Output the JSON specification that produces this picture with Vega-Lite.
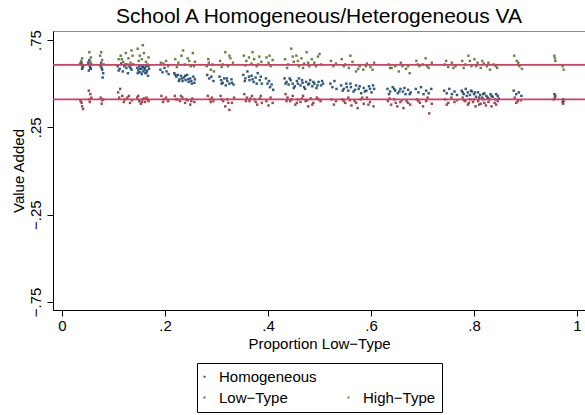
{
  "$schema": "https://vega.github.io/schema/vega-lite/v6.json",
  "width": 532,
  "height": 279,
  "autosize": {"type": "none"},
  "padding": {"left": 53, "top": 31, "right": 0, "bottom": 105},
  "background": "white",
  "title": {"text": "School A Homogeneous/Heterogeneous VA", "fontSize": 21, "font": "Liberation Sans", "fontWeight": "normal", "color": "black", "anchor": "middle", "frame": "group", "offset": 3},
  "config": {
    "view": {"stroke": "#8c8c8c", "strokeWidth": 1},
    "font": "Liberation Sans",
    "axis": {"grid": false, "domainColor": "black", "tickColor": "black", "labelColor": "black", "titleColor": "black", "labelFontSize": 15, "titleFontSize": 15, "titleFontWeight": "normal", "tickSize": 6, "labelFont": "Liberation Sans", "titleFont": "Liberation Sans"}
  },
  "layer": [
    {
      "data": {"values": [
        {"p":0.036,"va":0.61,"g":"Homogeneous"},{"p":0.039,"va":0.585,"g":"Homogeneous"},{"p":0.041,"va":0.6,"g":"Homogeneous"},{"p":0.038,"va":0.62,"g":"Homogeneous"},
        {"p":0.051,"va":0.62,"g":"Homogeneous"},{"p":0.054,"va":0.6,"g":"Homogeneous"},{"p":0.056,"va":0.585,"g":"Homogeneous"},{"p":0.053,"va":0.635,"g":"Homogeneous"},{"p":0.057,"va":0.61,"g":"Homogeneous"},{"p":0.052,"va":0.575,"g":"Homogeneous"},
        {"p":0.075,"va":0.6,"g":"Homogeneous"},{"p":0.078,"va":0.58,"g":"Homogeneous"},{"p":0.08,"va":0.56,"g":"Homogeneous"},{"p":0.076,"va":0.62,"g":"Homogeneous"},{"p":0.079,"va":0.535,"g":"Homogeneous"},
        {"p":0.108,"va":0.6,"g":"Homogeneous"},{"p":0.112,"va":0.585,"g":"Homogeneous"},{"p":0.115,"va":0.615,"g":"Homogeneous"},{"p":0.118,"va":0.57,"g":"Homogeneous"},{"p":0.121,"va":0.6,"g":"Homogeneous"},{"p":0.125,"va":0.59,"g":"Homogeneous"},{"p":0.128,"va":0.56,"g":"Homogeneous"},{"p":0.131,"va":0.6,"g":"Homogeneous"},{"p":0.135,"va":0.58,"g":"Homogeneous"},{"p":0.138,"va":0.61,"g":"Homogeneous"},
        {"p":0.146,"va":0.59,"g":"Homogeneous"},{"p":0.148,"va":0.575,"g":"Homogeneous"},{"p":0.15,"va":0.6,"g":"Homogeneous"},{"p":0.152,"va":0.565,"g":"Homogeneous"},{"p":0.154,"va":0.585,"g":"Homogeneous"},{"p":0.155,"va":0.555,"g":"Homogeneous"},{"p":0.157,"va":0.595,"g":"Homogeneous"},{"p":0.158,"va":0.57,"g":"Homogeneous"},{"p":0.16,"va":0.58,"g":"Homogeneous"},{"p":0.162,"va":0.56,"g":"Homogeneous"},{"p":0.163,"va":0.6,"g":"Homogeneous"},{"p":0.165,"va":0.575,"g":"Homogeneous"},{"p":0.167,"va":0.545,"g":"Homogeneous"},{"p":0.169,"va":0.585,"g":"Homogeneous"},
        {"p":0.191,"va":0.58,"g":"Homogeneous"},{"p":0.195,"va":0.565,"g":"Homogeneous"},{"p":0.199,"va":0.59,"g":"Homogeneous"},{"p":0.203,"va":0.57,"g":"Homogeneous"},{"p":0.207,"va":0.555,"g":"Homogeneous"},
        {"p":0.218,"va":0.56,"g":"Homogeneous"},{"p":0.222,"va":0.54,"g":"Homogeneous"},{"p":0.225,"va":0.55,"g":"Homogeneous"},{"p":0.228,"va":0.525,"g":"Homogeneous"},{"p":0.231,"va":0.545,"g":"Homogeneous"},{"p":0.234,"va":0.515,"g":"Homogeneous"},{"p":0.237,"va":0.535,"g":"Homogeneous"},{"p":0.24,"va":0.52,"g":"Homogeneous"},{"p":0.243,"va":0.55,"g":"Homogeneous"},{"p":0.246,"va":0.51,"g":"Homogeneous"},{"p":0.249,"va":0.53,"g":"Homogeneous"},{"p":0.252,"va":0.5,"g":"Homogeneous"},{"p":0.255,"va":0.54,"g":"Homogeneous"},{"p":0.258,"va":0.525,"g":"Homogeneous"},
        {"p":0.282,"va":0.55,"g":"Homogeneous"},{"p":0.286,"va":0.53,"g":"Homogeneous"},{"p":0.29,"va":0.54,"g":"Homogeneous"},{"p":0.294,"va":0.515,"g":"Homogeneous"},
        {"p":0.306,"va":0.54,"g":"Homogeneous"},{"p":0.309,"va":0.52,"g":"Homogeneous"},{"p":0.312,"va":0.505,"g":"Homogeneous"},{"p":0.315,"va":0.53,"g":"Homogeneous"},{"p":0.318,"va":0.49,"g":"Homogeneous"},{"p":0.321,"va":0.515,"g":"Homogeneous"},{"p":0.325,"va":0.5,"g":"Homogeneous"},{"p":0.329,"va":0.525,"g":"Homogeneous"},{"p":0.333,"va":0.495,"g":"Homogeneous"},
        {"p":0.352,"va":0.55,"g":"Homogeneous"},{"p":0.356,"va":0.53,"g":"Homogeneous"},{"p":0.36,"va":0.57,"g":"Homogeneous"},{"p":0.364,"va":0.52,"g":"Homogeneous"},{"p":0.368,"va":0.545,"g":"Homogeneous"},{"p":0.372,"va":0.51,"g":"Homogeneous"},{"p":0.376,"va":0.535,"g":"Homogeneous"},{"p":0.38,"va":0.56,"g":"Homogeneous"},{"p":0.384,"va":0.52,"g":"Homogeneous"},{"p":0.388,"va":0.5,"g":"Homogeneous"},
        {"p":0.396,"va":0.53,"g":"Homogeneous"},{"p":0.399,"va":0.5,"g":"Homogeneous"},{"p":0.402,"va":0.515,"g":"Homogeneous"},{"p":0.404,"va":0.48,"g":"Homogeneous"},{"p":0.407,"va":0.495,"g":"Homogeneous"},{"p":0.41,"va":0.465,"g":"Homogeneous"},
        {"p":0.432,"va":0.53,"g":"Homogeneous"},{"p":0.436,"va":0.51,"g":"Homogeneous"},{"p":0.44,"va":0.495,"g":"Homogeneous"},{"p":0.444,"va":0.52,"g":"Homogeneous"},{"p":0.448,"va":0.5,"g":"Homogeneous"},{"p":0.452,"va":0.485,"g":"Homogeneous"},{"p":0.456,"va":0.515,"g":"Homogeneous"},{"p":0.46,"va":0.53,"g":"Homogeneous"},{"p":0.463,"va":0.49,"g":"Homogeneous"},{"p":0.467,"va":0.505,"g":"Homogeneous"},{"p":0.47,"va":0.48,"g":"Homogeneous"},{"p":0.474,"va":0.51,"g":"Homogeneous"},{"p":0.478,"va":0.495,"g":"Homogeneous"},{"p":0.482,"va":0.52,"g":"Homogeneous"},{"p":0.486,"va":0.485,"g":"Homogeneous"},{"p":0.49,"va":0.5,"g":"Homogeneous"},{"p":0.494,"va":0.475,"g":"Homogeneous"},{"p":0.498,"va":0.51,"g":"Homogeneous"},{"p":0.503,"va":0.49,"g":"Homogeneous"},{"p":0.507,"va":0.5,"g":"Homogeneous"},
        {"p":0.521,"va":0.5,"g":"Homogeneous"},{"p":0.525,"va":0.48,"g":"Homogeneous"},{"p":0.529,"va":0.515,"g":"Homogeneous"},{"p":0.533,"va":0.47,"g":"Homogeneous"},
        {"p":0.542,"va":0.49,"g":"Homogeneous"},{"p":0.547,"va":0.47,"g":"Homogeneous"},{"p":0.552,"va":0.5,"g":"Homogeneous"},{"p":0.556,"va":0.46,"g":"Homogeneous"},{"p":0.561,"va":0.48,"g":"Homogeneous"},{"p":0.566,"va":0.455,"g":"Homogeneous"},{"p":0.571,"va":0.49,"g":"Homogeneous"},{"p":0.576,"va":0.47,"g":"Homogeneous"},{"p":0.581,"va":0.445,"g":"Homogeneous"},{"p":0.586,"va":0.475,"g":"Homogeneous"},{"p":0.591,"va":0.46,"g":"Homogeneous"},{"p":0.596,"va":0.485,"g":"Homogeneous"},{"p":0.601,"va":0.45,"g":"Homogeneous"},{"p":0.606,"va":0.47,"g":"Homogeneous"},
        {"p":0.632,"va":0.47,"g":"Homogeneous"},{"p":0.637,"va":0.455,"g":"Homogeneous"},{"p":0.642,"va":0.48,"g":"Homogeneous"},{"p":0.647,"va":0.46,"g":"Homogeneous"},{"p":0.652,"va":0.445,"g":"Homogeneous"},{"p":0.657,"va":0.47,"g":"Homogeneous"},{"p":0.662,"va":0.455,"g":"Homogeneous"},{"p":0.667,"va":0.44,"g":"Homogeneous"},{"p":0.672,"va":0.465,"g":"Homogeneous"},{"p":0.677,"va":0.45,"g":"Homogeneous"},
        {"p":0.687,"va":0.47,"g":"Homogeneous"},{"p":0.692,"va":0.45,"g":"Homogeneous"},{"p":0.697,"va":0.48,"g":"Homogeneous"},{"p":0.702,"va":0.44,"g":"Homogeneous"},{"p":0.707,"va":0.46,"g":"Homogeneous"},{"p":0.712,"va":0.445,"g":"Homogeneous"},{"p":0.717,"va":0.47,"g":"Homogeneous"},
        {"p":0.742,"va":0.46,"g":"Homogeneous"},{"p":0.747,"va":0.445,"g":"Homogeneous"},{"p":0.752,"va":0.47,"g":"Homogeneous"},{"p":0.757,"va":0.44,"g":"Homogeneous"},{"p":0.762,"va":0.455,"g":"Homogeneous"},{"p":0.767,"va":0.435,"g":"Homogeneous"},
        {"p":0.776,"va":0.46,"g":"Homogeneous"},{"p":0.78,"va":0.44,"g":"Homogeneous"},{"p":0.784,"va":0.47,"g":"Homogeneous"},{"p":0.788,"va":0.45,"g":"Homogeneous"},{"p":0.792,"va":0.435,"g":"Homogeneous"},{"p":0.796,"va":0.455,"g":"Homogeneous"},{"p":0.8,"va":0.44,"g":"Homogeneous"},{"p":0.804,"va":0.425,"g":"Homogeneous"},{"p":0.808,"va":0.45,"g":"Homogeneous"},{"p":0.812,"va":0.435,"g":"Homogeneous"},{"p":0.816,"va":0.42,"g":"Homogeneous"},{"p":0.82,"va":0.445,"g":"Homogeneous"},{"p":0.824,"va":0.43,"g":"Homogeneous"},{"p":0.828,"va":0.415,"g":"Homogeneous"},{"p":0.832,"va":0.44,"g":"Homogeneous"},{"p":0.836,"va":0.425,"g":"Homogeneous"},{"p":0.841,"va":0.41,"g":"Homogeneous"},{"p":0.846,"va":0.43,"g":"Homogeneous"},
        {"p":0.877,"va":0.46,"g":"Homogeneous"},{"p":0.882,"va":0.44,"g":"Homogeneous"},{"p":0.887,"va":0.45,"g":"Homogeneous"},{"p":0.892,"va":0.43,"g":"Homogeneous"},
        {"p":0.956,"va":0.44,"g":"Homogeneous"},{"p":0.958,"va":0.43,"g":"Homogeneous"},
        {"p":0.973,"va":0.41,"g":"Homogeneous"},{"p":0.972,"va":0.395,"g":"Homogeneous"},
        {"p":0.04,"va":0.595,"g":"Homogeneous"},{"p":0.055,"va":0.59,"g":"Homogeneous"},{"p":0.077,"va":0.59,"g":"Homogeneous"},
        {"p":0.11,"va":0.575,"g":"Homogeneous"},{"p":0.123,"va":0.61,"g":"Homogeneous"},{"p":0.133,"va":0.59,"g":"Homogeneous"},
        {"p":0.147,"va":0.56,"g":"Homogeneous"},{"p":0.151,"va":0.585,"g":"Homogeneous"},{"p":0.156,"va":0.6,"g":"Homogeneous"},{"p":0.161,"va":0.59,"g":"Homogeneous"},{"p":0.164,"va":0.565,"g":"Homogeneous"},{"p":0.168,"va":0.6,"g":"Homogeneous"},
        {"p":0.22,"va":0.55,"g":"Homogeneous"},{"p":0.227,"va":0.515,"g":"Homogeneous"},{"p":0.233,"va":0.53,"g":"Homogeneous"},{"p":0.239,"va":0.545,"g":"Homogeneous"},{"p":0.245,"va":0.525,"g":"Homogeneous"},{"p":0.251,"va":0.515,"g":"Homogeneous"},{"p":0.257,"va":0.505,"g":"Homogeneous"},
        {"p":0.31,"va":0.5,"g":"Homogeneous"},{"p":0.32,"va":0.53,"g":"Homogeneous"},{"p":0.33,"va":0.505,"g":"Homogeneous"},
        {"p":0.355,"va":0.515,"g":"Homogeneous"},{"p":0.363,"va":0.54,"g":"Homogeneous"},{"p":0.37,"va":0.525,"g":"Homogeneous"},{"p":0.378,"va":0.5,"g":"Homogeneous"},{"p":0.386,"va":0.54,"g":"Homogeneous"},
        {"p":0.434,"va":0.5,"g":"Homogeneous"},{"p":0.442,"va":0.53,"g":"Homogeneous"},{"p":0.45,"va":0.475,"g":"Homogeneous"},{"p":0.458,"va":0.5,"g":"Homogeneous"},{"p":0.466,"va":0.52,"g":"Homogeneous"},{"p":0.472,"va":0.47,"g":"Homogeneous"},{"p":0.48,"va":0.5,"g":"Homogeneous"},{"p":0.488,"va":0.51,"g":"Homogeneous"},{"p":0.496,"va":0.49,"g":"Homogeneous"},{"p":0.505,"va":0.515,"g":"Homogeneous"},
        {"p":0.545,"va":0.46,"g":"Homogeneous"},{"p":0.553,"va":0.48,"g":"Homogeneous"},{"p":0.56,"va":0.5,"g":"Homogeneous"},{"p":0.569,"va":0.465,"g":"Homogeneous"},{"p":0.578,"va":0.485,"g":"Homogeneous"},{"p":0.588,"va":0.455,"g":"Homogeneous"},{"p":0.598,"va":0.47,"g":"Homogeneous"},{"p":0.604,"va":0.49,"g":"Homogeneous"},
        {"p":0.635,"va":0.44,"g":"Homogeneous"},{"p":0.645,"va":0.47,"g":"Homogeneous"},{"p":0.655,"va":0.455,"g":"Homogeneous"},{"p":0.665,"va":0.475,"g":"Homogeneous"},{"p":0.675,"va":0.44,"g":"Homogeneous"},
        {"p":0.778,"va":0.45,"g":"Homogeneous"},{"p":0.786,"va":0.43,"g":"Homogeneous"},{"p":0.794,"va":0.46,"g":"Homogeneous"},{"p":0.802,"va":0.45,"g":"Homogeneous"},{"p":0.81,"va":0.42,"g":"Homogeneous"},{"p":0.818,"va":0.44,"g":"Homogeneous"},{"p":0.826,"va":0.42,"g":"Homogeneous"},{"p":0.834,"va":0.43,"g":"Homogeneous"},{"p":0.843,"va":0.44,"g":"Homogeneous"},{"p":0.848,"va":0.415,"g":"Homogeneous"},

        {"p":0.036,"va":0.4,"g":"Low−Type"},{"p":0.039,"va":0.37,"g":"Low−Type"},{"p":0.041,"va":0.355,"g":"Low−Type"},
        {"p":0.052,"va":0.46,"g":"Low−Type"},{"p":0.055,"va":0.44,"g":"Low−Type"},{"p":0.057,"va":0.42,"g":"Low−Type"},{"p":0.054,"va":0.395,"g":"Low−Type"},
        {"p":0.075,"va":0.42,"g":"Low−Type"},{"p":0.078,"va":0.405,"g":"Low−Type"},{"p":0.08,"va":0.41,"g":"Low−Type"},
        {"p":0.109,"va":0.45,"g":"Low−Type"},{"p":0.113,"va":0.47,"g":"Low−Type"},{"p":0.117,"va":0.43,"g":"Low−Type"},{"p":0.122,"va":0.41,"g":"Low−Type"},{"p":0.127,"va":0.42,"g":"Low−Type"},{"p":0.132,"va":0.39,"g":"Low−Type"},{"p":0.136,"va":0.405,"g":"Low−Type"},
        {"p":0.146,"va":0.42,"g":"Low−Type"},{"p":0.15,"va":0.4,"g":"Low−Type"},{"p":0.153,"va":0.385,"g":"Low−Type"},{"p":0.157,"va":0.41,"g":"Low−Type"},{"p":0.161,"va":0.395,"g":"Low−Type"},{"p":0.164,"va":0.42,"g":"Low−Type"},{"p":0.168,"va":0.4,"g":"Low−Type"},
        {"p":0.193,"va":0.43,"g":"Low−Type"},{"p":0.198,"va":0.41,"g":"Low−Type"},{"p":0.202,"va":0.42,"g":"Low−Type"},{"p":0.206,"va":0.4,"g":"Low−Type"},
        {"p":0.219,"va":0.43,"g":"Low−Type"},{"p":0.224,"va":0.41,"g":"Low−Type"},{"p":0.229,"va":0.4,"g":"Low−Type"},{"p":0.234,"va":0.42,"g":"Low−Type"},{"p":0.239,"va":0.39,"g":"Low−Type"},{"p":0.244,"va":0.405,"g":"Low−Type"},{"p":0.249,"va":0.38,"g":"Low−Type"},{"p":0.253,"va":0.415,"g":"Low−Type"},{"p":0.257,"va":0.395,"g":"Low−Type"},
        {"p":0.283,"va":0.43,"g":"Low−Type"},{"p":0.287,"va":0.41,"g":"Low−Type"},{"p":0.291,"va":0.42,"g":"Low−Type"},{"p":0.294,"va":0.4,"g":"Low−Type"},
        {"p":0.308,"va":0.43,"g":"Low−Type"},{"p":0.313,"va":0.4,"g":"Low−Type"},{"p":0.317,"va":0.37,"g":"Low−Type"},{"p":0.321,"va":0.41,"g":"Low−Type"},{"p":0.325,"va":0.35,"g":"Low−Type"},{"p":0.33,"va":0.39,"g":"Low−Type"},{"p":0.334,"va":0.42,"g":"Low−Type"},
        {"p":0.354,"va":0.44,"g":"Low−Type"},{"p":0.359,"va":0.42,"g":"Low−Type"},{"p":0.364,"va":0.4,"g":"Low−Type"},{"p":0.369,"va":0.43,"g":"Low−Type"},{"p":0.374,"va":0.41,"g":"Low−Type"},{"p":0.379,"va":0.38,"g":"Low−Type"},{"p":0.384,"va":0.415,"g":"Low−Type"},{"p":0.388,"va":0.39,"g":"Low−Type"},
        {"p":0.397,"va":0.4,"g":"Low−Type"},{"p":0.401,"va":0.375,"g":"Low−Type"},{"p":0.405,"va":0.42,"g":"Low−Type"},{"p":0.409,"va":0.39,"g":"Low−Type"},
        {"p":0.434,"va":0.44,"g":"Low−Type"},{"p":0.438,"va":0.42,"g":"Low−Type"},{"p":0.443,"va":0.4,"g":"Low−Type"},{"p":0.448,"va":0.43,"g":"Low−Type"},{"p":0.453,"va":0.38,"g":"Low−Type"},{"p":0.458,"va":0.41,"g":"Low−Type"},{"p":0.463,"va":0.395,"g":"Low−Type"},{"p":0.468,"va":0.43,"g":"Low−Type"},{"p":0.473,"va":0.4,"g":"Low−Type"},{"p":0.478,"va":0.37,"g":"Low−Type"},{"p":0.483,"va":0.415,"g":"Low−Type"},{"p":0.488,"va":0.39,"g":"Low−Type"},{"p":0.495,"va":0.42,"g":"Low−Type"},{"p":0.502,"va":0.4,"g":"Low−Type"},
        {"p":0.523,"va":0.41,"g":"Low−Type"},{"p":0.528,"va":0.38,"g":"Low−Type"},{"p":0.532,"va":0.4,"g":"Low−Type"},
        {"p":0.544,"va":0.41,"g":"Low−Type"},{"p":0.55,"va":0.39,"g":"Low−Type"},{"p":0.556,"va":0.42,"g":"Low−Type"},{"p":0.562,"va":0.375,"g":"Low−Type"},{"p":0.568,"va":0.4,"g":"Low−Type"},{"p":0.574,"va":0.36,"g":"Low−Type"},{"p":0.58,"va":0.41,"g":"Low−Type"},{"p":0.586,"va":0.385,"g":"Low−Type"},{"p":0.592,"va":0.42,"g":"Low−Type"},{"p":0.598,"va":0.395,"g":"Low−Type"},{"p":0.605,"va":0.37,"g":"Low−Type"},
        {"p":0.633,"va":0.4,"g":"Low−Type"},{"p":0.639,"va":0.38,"g":"Low−Type"},{"p":0.645,"va":0.41,"g":"Low−Type"},{"p":0.651,"va":0.37,"g":"Low−Type"},{"p":0.657,"va":0.395,"g":"Low−Type"},{"p":0.663,"va":0.36,"g":"Low−Type"},{"p":0.669,"va":0.4,"g":"Low−Type"},{"p":0.676,"va":0.38,"g":"Low−Type"},
        {"p":0.689,"va":0.41,"g":"Low−Type"},{"p":0.695,"va":0.39,"g":"Low−Type"},{"p":0.701,"va":0.37,"g":"Low−Type"},{"p":0.707,"va":0.4,"g":"Low−Type"},{"p":0.713,"va":0.33,"g":"Low−Type"},{"p":0.718,"va":0.385,"g":"Low−Type"},
        {"p":0.744,"va":0.41,"g":"Low−Type"},{"p":0.75,"va":0.39,"g":"Low−Type"},{"p":0.756,"va":0.42,"g":"Low−Type"},{"p":0.762,"va":0.395,"g":"Low−Type"},{"p":0.767,"va":0.405,"g":"Low−Type"},
        {"p":0.778,"va":0.42,"g":"Low−Type"},{"p":0.783,"va":0.4,"g":"Low−Type"},{"p":0.788,"va":0.38,"g":"Low−Type"},{"p":0.793,"va":0.41,"g":"Low−Type"},{"p":0.798,"va":0.395,"g":"Low−Type"},{"p":0.803,"va":0.37,"g":"Low−Type"},{"p":0.808,"va":0.4,"g":"Low−Type"},{"p":0.813,"va":0.385,"g":"Low−Type"},{"p":0.818,"va":0.41,"g":"Low−Type"},{"p":0.823,"va":0.375,"g":"Low−Type"},{"p":0.828,"va":0.395,"g":"Low−Type"},{"p":0.834,"va":0.37,"g":"Low−Type"},{"p":0.84,"va":0.39,"g":"Low−Type"},{"p":0.846,"va":0.4,"g":"Low−Type"},
        {"p":0.879,"va":0.42,"g":"Low−Type"},{"p":0.885,"va":0.4,"g":"Low−Type"},{"p":0.891,"va":0.405,"g":"Low−Type"},
        {"p":0.957,"va":0.42,"g":"Low−Type"},{"p":0.955,"va":0.41,"g":"Low−Type"},
        {"p":0.974,"va":0.4,"g":"Low−Type"},{"p":0.973,"va":0.385,"g":"Low−Type"},
        {"p":0.038,"va":0.39,"g":"Low−Type"},{"p":0.053,"va":0.41,"g":"Low−Type"},{"p":0.077,"va":0.385,"g":"Low−Type"},{"p":0.111,"va":0.42,"g":"Low−Type"},{"p":0.12,"va":0.395,"g":"Low−Type"},{"p":0.13,"va":0.43,"g":"Low−Type"},{"p":0.148,"va":0.43,"g":"Low−Type"},{"p":0.155,"va":0.395,"g":"Low−Type"},{"p":0.159,"va":0.415,"g":"Low−Type"},{"p":0.166,"va":0.41,"g":"Low−Type"},
        {"p":0.196,"va":0.395,"g":"Low−Type"},{"p":0.221,"va":0.41,"g":"Low−Type"},{"p":0.231,"va":0.43,"g":"Low−Type"},{"p":0.241,"va":0.41,"g":"Low−Type"},{"p":0.251,"va":0.4,"g":"Low−Type"},{"p":0.289,"va":0.395,"g":"Low−Type"},{"p":0.31,"va":0.41,"g":"Low−Type"},{"p":0.323,"va":0.39,"g":"Low−Type"},
        {"p":0.357,"va":0.4,"g":"Low−Type"},{"p":0.366,"va":0.415,"g":"Low−Type"},{"p":0.376,"va":0.395,"g":"Low−Type"},{"p":0.386,"va":0.43,"g":"Low−Type"},{"p":0.436,"va":0.4,"g":"Low−Type"},{"p":0.446,"va":0.41,"g":"Low−Type"},{"p":0.456,"va":0.39,"g":"Low−Type"},{"p":0.466,"va":0.415,"g":"Low−Type"},{"p":0.476,"va":0.405,"g":"Low−Type"},{"p":0.486,"va":0.38,"g":"Low−Type"},{"p":0.498,"va":0.41,"g":"Low−Type"},
        {"p":0.547,"va":0.4,"g":"Low−Type"},{"p":0.559,"va":0.405,"g":"Low−Type"},{"p":0.571,"va":0.39,"g":"Low−Type"},{"p":0.583,"va":0.42,"g":"Low−Type"},{"p":0.595,"va":0.38,"g":"Low−Type"},{"p":0.636,"va":0.415,"g":"Low−Type"},{"p":0.648,"va":0.39,"g":"Low−Type"},{"p":0.66,"va":0.405,"g":"Low−Type"},{"p":0.672,"va":0.39,"g":"Low−Type"},
        {"p":0.692,"va":0.4,"g":"Low−Type"},{"p":0.71,"va":0.42,"g":"Low−Type"},{"p":0.747,"va":0.38,"g":"Low−Type"},{"p":0.78,"va":0.405,"g":"Low−Type"},{"p":0.79,"va":0.39,"g":"Low−Type"},{"p":0.8,"va":0.41,"g":"Low−Type"},{"p":0.81,"va":0.38,"g":"Low−Type"},{"p":0.82,"va":0.39,"g":"Low−Type"},{"p":0.83,"va":0.41,"g":"Low−Type"},{"p":0.843,"va":0.38,"g":"Low−Type"},{"p":0.882,"va":0.39,"g":"Low−Type"},

        {"p":0.037,"va":0.63,"g":"High−Type"},{"p":0.04,"va":0.6,"g":"High−Type"},{"p":0.035,"va":0.615,"g":"High−Type"},
        {"p":0.053,"va":0.68,"g":"High−Type"},{"p":0.056,"va":0.65,"g":"High−Type"},{"p":0.055,"va":0.625,"g":"High−Type"},
        {"p":0.074,"va":0.66,"g":"High−Type"},{"p":0.078,"va":0.635,"g":"High−Type"},{"p":0.081,"va":0.61,"g":"High−Type"},
        {"p":0.11,"va":0.64,"g":"High−Type"},{"p":0.114,"va":0.66,"g":"High−Type"},{"p":0.119,"va":0.625,"g":"High−Type"},{"p":0.124,"va":0.675,"g":"High−Type"},{"p":0.129,"va":0.645,"g":"High−Type"},{"p":0.133,"va":0.62,"g":"High−Type"},{"p":0.137,"va":0.66,"g":"High−Type"},
        {"p":0.147,"va":0.7,"g":"High−Type"},{"p":0.151,"va":0.66,"g":"High−Type"},{"p":0.155,"va":0.64,"g":"High−Type"},{"p":0.159,"va":0.675,"g":"High−Type"},{"p":0.163,"va":0.625,"g":"High−Type"},{"p":0.168,"va":0.65,"g":"High−Type"},
        {"p":0.192,"va":0.62,"g":"High−Type"},{"p":0.197,"va":0.615,"g":"High−Type"},{"p":0.202,"va":0.63,"g":"High−Type"},{"p":0.206,"va":0.6,"g":"High−Type"},
        {"p":0.22,"va":0.64,"g":"High−Type"},{"p":0.226,"va":0.62,"g":"High−Type"},{"p":0.232,"va":0.66,"g":"High−Type"},{"p":0.238,"va":0.61,"g":"High−Type"},{"p":0.244,"va":0.645,"g":"High−Type"},{"p":0.25,"va":0.6,"g":"High−Type"},{"p":0.254,"va":0.675,"g":"High−Type"},{"p":0.258,"va":0.625,"g":"High−Type"},
        {"p":0.281,"va":0.6,"g":"High−Type"},{"p":0.285,"va":0.62,"g":"High−Type"},{"p":0.289,"va":0.58,"g":"High−Type"},{"p":0.292,"va":0.61,"g":"High−Type"},{"p":0.295,"va":0.57,"g":"High−Type"},
        {"p":0.307,"va":0.63,"g":"High−Type"},{"p":0.312,"va":0.61,"g":"High−Type"},{"p":0.317,"va":0.68,"g":"High−Type"},{"p":0.322,"va":0.6,"g":"High−Type"},{"p":0.327,"va":0.645,"g":"High−Type"},{"p":0.332,"va":0.62,"g":"High−Type"},
        {"p":0.353,"va":0.66,"g":"High−Type"},{"p":0.358,"va":0.63,"g":"High−Type"},{"p":0.363,"va":0.65,"g":"High−Type"},{"p":0.368,"va":0.615,"g":"High−Type"},{"p":0.373,"va":0.64,"g":"High−Type"},{"p":0.378,"va":0.6,"g":"High−Type"},{"p":0.383,"va":0.655,"g":"High−Type"},{"p":0.387,"va":0.625,"g":"High−Type"},
        {"p":0.397,"va":0.65,"g":"High−Type"},{"p":0.401,"va":0.62,"g":"High−Type"},{"p":0.405,"va":0.6,"g":"High−Type"},{"p":0.409,"va":0.635,"g":"High−Type"},
        {"p":0.433,"va":0.64,"g":"High−Type"},{"p":0.439,"va":0.61,"g":"High−Type"},{"p":0.445,"va":0.7,"g":"High−Type"},{"p":0.45,"va":0.625,"g":"High−Type"},{"p":0.455,"va":0.66,"g":"High−Type"},{"p":0.46,"va":0.6,"g":"High−Type"},{"p":0.465,"va":0.645,"g":"High−Type"},{"p":0.47,"va":0.615,"g":"High−Type"},{"p":0.475,"va":0.68,"g":"High−Type"},{"p":0.48,"va":0.6,"g":"High−Type"},{"p":0.485,"va":0.64,"g":"High−Type"},{"p":0.49,"va":0.62,"g":"High−Type"},{"p":0.497,"va":0.655,"g":"High−Type"},{"p":0.503,"va":0.61,"g":"High−Type"},
        {"p":0.522,"va":0.63,"g":"High−Type"},{"p":0.527,"va":0.6,"g":"High−Type"},{"p":0.532,"va":0.615,"g":"High−Type"},
        {"p":0.543,"va":0.64,"g":"High−Type"},{"p":0.55,"va":0.61,"g":"High−Type"},{"p":0.557,"va":0.59,"g":"High−Type"},{"p":0.564,"va":0.625,"g":"High−Type"},{"p":0.571,"va":0.57,"g":"High−Type"},{"p":0.578,"va":0.6,"g":"High−Type"},{"p":0.585,"va":0.58,"g":"High−Type"},{"p":0.592,"va":0.615,"g":"High−Type"},{"p":0.599,"va":0.595,"g":"High−Type"},{"p":0.606,"va":0.62,"g":"High−Type"},
        {"p":0.634,"va":0.61,"g":"High−Type"},{"p":0.64,"va":0.59,"g":"High−Type"},{"p":0.647,"va":0.6,"g":"High−Type"},{"p":0.654,"va":0.57,"g":"High−Type"},{"p":0.661,"va":0.6,"g":"High−Type"},{"p":0.668,"va":0.585,"g":"High−Type"},{"p":0.675,"va":0.56,"g":"High−Type"},
        {"p":0.688,"va":0.63,"g":"High−Type"},{"p":0.694,"va":0.6,"g":"High−Type"},{"p":0.7,"va":0.61,"g":"High−Type"},{"p":0.706,"va":0.645,"g":"High−Type"},{"p":0.712,"va":0.59,"g":"High−Type"},{"p":0.718,"va":0.62,"g":"High−Type"},
        {"p":0.743,"va":0.61,"g":"High−Type"},{"p":0.75,"va":0.595,"g":"High−Type"},{"p":0.757,"va":0.62,"g":"High−Type"},{"p":0.764,"va":0.6,"g":"High−Type"},
        {"p":0.777,"va":0.63,"g":"High−Type"},{"p":0.783,"va":0.61,"g":"High−Type"},{"p":0.789,"va":0.66,"g":"High−Type"},{"p":0.795,"va":0.6,"g":"High−Type"},{"p":0.801,"va":0.64,"g":"High−Type"},{"p":0.807,"va":0.62,"g":"High−Type"},{"p":0.813,"va":0.59,"g":"High−Type"},{"p":0.819,"va":0.615,"g":"High−Type"},{"p":0.825,"va":0.6,"g":"High−Type"},{"p":0.831,"va":0.58,"g":"High−Type"},{"p":0.838,"va":0.61,"g":"High−Type"},{"p":0.845,"va":0.59,"g":"High−Type"},
        {"p":0.878,"va":0.66,"g":"High−Type"},{"p":0.883,"va":0.63,"g":"High−Type"},{"p":0.888,"va":0.6,"g":"High−Type"},{"p":0.893,"va":0.585,"g":"High−Type"},
        {"p":0.956,"va":0.66,"g":"High−Type"},{"p":0.957,"va":0.645,"g":"High−Type"},{"p":0.958,"va":0.63,"g":"High−Type"},
        {"p":0.972,"va":0.6,"g":"High−Type"},{"p":0.974,"va":0.58,"g":"High−Type"},
        {"p":0.039,"va":0.645,"g":"High−Type"},{"p":0.054,"va":0.61,"g":"High−Type"},{"p":0.076,"va":0.68,"g":"High−Type"},{"p":0.116,"va":0.64,"g":"High−Type"},{"p":0.127,"va":0.61,"g":"High−Type"},{"p":0.135,"va":0.69,"g":"High−Type"},{"p":0.149,"va":0.63,"g":"High−Type"},{"p":0.157,"va":0.72,"g":"High−Type"},{"p":0.166,"va":0.61,"g":"High−Type"},
        {"p":0.223,"va":0.595,"g":"High−Type"},{"p":0.235,"va":0.69,"g":"High−Type"},{"p":0.247,"va":0.63,"g":"High−Type"},{"p":0.256,"va":0.6,"g":"High−Type"},{"p":0.284,"va":0.64,"g":"High−Type"},{"p":0.31,"va":0.595,"g":"High−Type"},{"p":0.325,"va":0.66,"g":"High−Type"},
        {"p":0.356,"va":0.605,"g":"High−Type"},{"p":0.37,"va":0.68,"g":"High−Type"},{"p":0.381,"va":0.61,"g":"High−Type"},{"p":0.403,"va":0.66,"g":"High−Type"},{"p":0.437,"va":0.59,"g":"High−Type"},{"p":0.448,"va":0.655,"g":"High−Type"},{"p":0.458,"va":0.63,"g":"High−Type"},{"p":0.468,"va":0.59,"g":"High−Type"},{"p":0.478,"va":0.62,"g":"High−Type"},{"p":0.493,"va":0.6,"g":"High−Type"},{"p":0.5,"va":0.67,"g":"High−Type"},
        {"p":0.547,"va":0.6,"g":"High−Type"},{"p":0.56,"va":0.66,"g":"High−Type"},{"p":0.575,"va":0.585,"g":"High−Type"},{"p":0.59,"va":0.6,"g":"High−Type"},{"p":0.603,"va":0.58,"g":"High−Type"},{"p":0.637,"va":0.59,"g":"High−Type"},{"p":0.658,"va":0.62,"g":"High−Type"},{"p":0.672,"va":0.6,"g":"High−Type"},
        {"p":0.691,"va":0.61,"g":"High−Type"},{"p":0.709,"va":0.6,"g":"High−Type"},{"p":0.746,"va":0.63,"g":"High−Type"},{"p":0.76,"va":0.59,"g":"High−Type"},{"p":0.78,"va":0.59,"g":"High−Type"},{"p":0.792,"va":0.63,"g":"High−Type"},{"p":0.804,"va":0.6,"g":"High−Type"},{"p":0.816,"va":0.63,"g":"High−Type"},{"p":0.828,"va":0.62,"g":"High−Type"},{"p":0.842,"va":0.6,"g":"High−Type"},{"p":0.886,"va":0.62,"g":"High−Type"}
      ]},
      "mark": {"type": "point", "filled": true, "shape": "square", "size": 6, "opacity": 0.9},
      "encoding": {
        "x": {"field": "p", "type": "quantitative",
          "scale": {"domain": [-0.0175, 1.0155], "nice": false, "zero": false},
          "axis": {"title": "Proportion Low−Type", "values": [0, 0.2, 0.4, 0.6, 0.8, 1], "labelExpr": "replace(format(datum.value, '~g'), '0.', '.')", "labelFlush": false, "labelOverlap": false, "labelPadding": 2, "titlePadding": 3}},
        "y": {"field": "va", "type": "quantitative",
          "scale": {"domain": [-0.796, 0.8015], "nice": false, "zero": false},
          "axis": {"title": "Value Added", "values": [-0.75, -0.25, 0.25, 0.75], "labelExpr": "replace(format(datum.value, '~g'), '0.', '.')", "labelAngle": -90, "labelAlign": "center", "labelBaseline": "bottom", "labelPadding": 4, "titlePadding": 2}},
        "color": {"field": "g", "type": "nominal",
          "scale": {"domain": ["Homogeneous", "Low−Type", " ", "High−Type"], "range": ["#1a476f", "#90353b", "rgba(0,0,0,0)", "#55752f"]},
          "legend": {"title": null, "orient": "none", "legendX": 144, "legendY": 332, "columns": 2, "strokeColor": "black", "fillColor": "white", "padding": 6, "labelFontSize": 15, "labelFont": "Liberation Sans", "labelColor": "black", "symbolSize": 4, "symbolType": "square", "symbolStrokeWidth": 0, "symbolOffset": -6, "labelOffset": 7, "columnPadding": 30, "rowPadding": 5, "cornerRadius": 0}}
      }
    },
    {
      "data": {"values": [{"v": 0.607}, {"v": 0.41}]},
      "mark": {"type": "rule", "color": "#d33d63", "strokeWidth": 1.8},
      "encoding": {"y": {"field": "v", "type": "quantitative"}}
    }
  ]
}
